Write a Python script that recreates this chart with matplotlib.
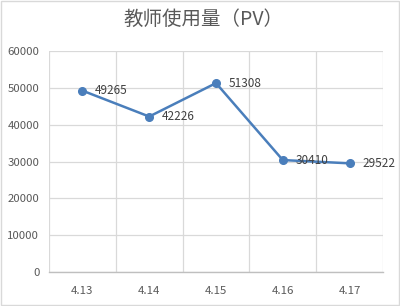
import matplotlib
matplotlib.use('Agg')
import matplotlib.pyplot as plt
import numpy as np

plt.rcParams['font.family'] = ['Noto Sans CJK SC', 'DejaVu Sans']

dates = ['4.13', '4.14', '4.15', '4.16', '4.17']
pv = [49265, 42226, 51308, 30410, 29522]
title = '教师使用量（PV）'

line_color = '#4A7EBB'
text_color = '#595959'
grid_color = '#D9D9D9'

fig = plt.figure(figsize=(4, 3.06), dpi=100)
ax = fig.add_axes([0.1225, 0.111, 0.835, 0.722])

x = np.arange(len(dates))
ax.plot(x, pv, color=line_color, linewidth=1.8, marker='o', markersize=5.5, zorder=3)
for xi, v in zip(x, pv):
    ax.annotate(str(v), (xi, v), xytext=(9, 0), textcoords='offset points',
                va='center', ha='left', fontsize=8.5, color='#404040')

ax.set_xlim(-0.5, len(dates) - 0.5)
ax.set_ylim(0, 60000)
ax.set_yticks(range(0, 60001, 10000))
ax.set_xticks(x)
ax.set_xticklabels(dates)
ax.set_xticks(np.arange(-0.5, len(dates), 1), minor=True)

ax.grid(axis='y', which='major', color=grid_color, linewidth=0.9)
ax.grid(axis='x', which='minor', color=grid_color, linewidth=0.9)
ax.set_axisbelow(True)

for side in ['top', 'right', 'left']:
    ax.spines[side].set_visible(False)
ax.spines['bottom'].set_color('#BFBFBF')
ax.spines['bottom'].set_linewidth(1.0)

ax.tick_params(axis='both', which='both', length=0, labelsize=8.2, colors=text_color)
ax.tick_params(axis='x', pad=10)
ax.tick_params(axis='y', pad=7)

fig.text(0.508, 0.935, title, ha='center', va='center', fontsize=14, color=text_color)

fig.patches.append(plt.Rectangle((0.002, 0.002), 0.995, 0.995, transform=fig.transFigure,
                                 fill=False, edgecolor='#D9D9D9', linewidth=1))

fig.savefig('out.png', dpi=100)
